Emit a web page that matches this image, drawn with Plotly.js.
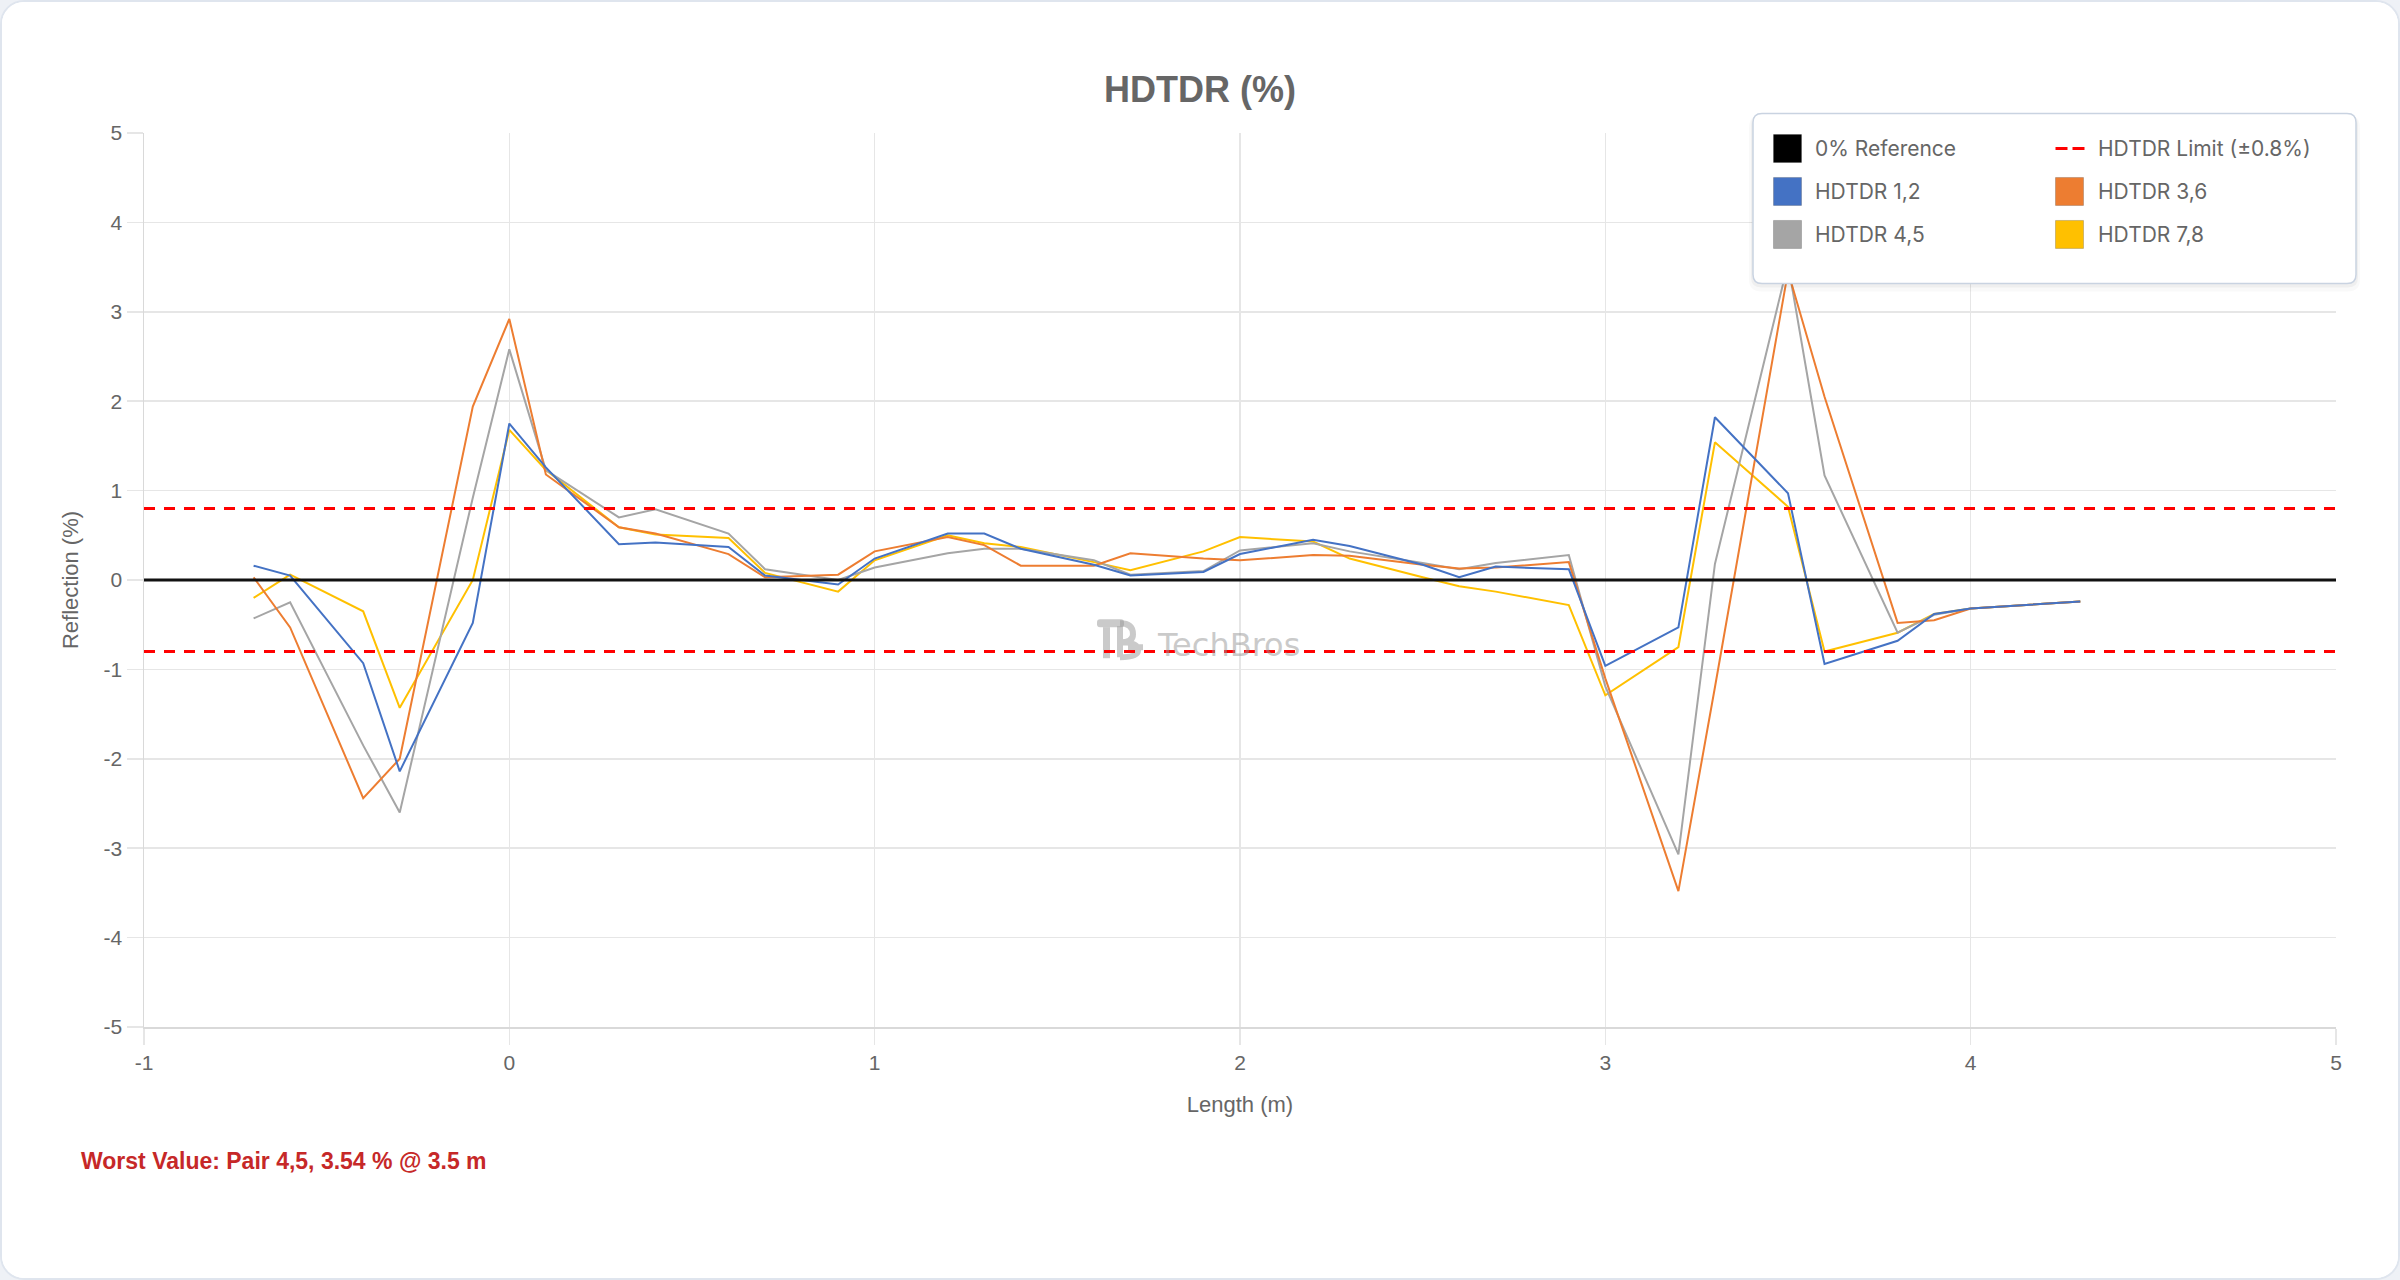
<!DOCTYPE html>
<html>
<head>
<meta charset="utf-8">
<script src="https://cdn.plot.ly/plotly-3.0.1.min.js"></script>
<style>
  html, body { margin:0; padding:0; background:#eef1f6; }
  #wrap { position:absolute; left:0; top:0; width:2400px; height:1280px; box-sizing:border-box;
          border:2px solid #dfe5ee; border-radius:24px; background:#ffffff; overflow:hidden; }
  #chart { width:2396px; height:1276px; }
</style>
</head>
<body>
<div id="wrap"><div id="chart"></div></div>
<script>
// ---------------- data ----------------
const lengthM = [-0.7,-0.6,-0.4,-0.3,-0.1,0,0.1,0.3,0.4,0.6,0.7,0.9,1.0,1.2,1.3,1.4,1.6,1.7,1.9,2.0,2.2,2.3,2.5,2.6,2.7,2.9,3.0,3.2,3.3,3.5,3.6,3.8,3.9,4.0,4.3];
const hdtdr12 = [0.16,0.05,-0.93,-2.14,-0.48,1.75,1.26,0.40,0.42,0.37,0.05,-0.05,0.24,0.52,0.52,0.35,0.17,0.05,0.09,0.29,0.45,0.38,0.17,0.03,0.15,0.12,-0.96,-0.53,1.82,0.97,-0.94,-0.68,-0.38,-0.32,-0.24];
const hdtdr36 = [0.03,-0.53,-2.44,-2.00,1.94,2.92,1.18,0.59,0.52,0.29,0.03,0.06,0.32,0.48,0.39,0.16,0.16,0.30,0.24,0.22,0.28,0.27,0.17,0.13,0.14,0.20,-1.10,-3.48,-1.20,3.45,2.05,-0.48,-0.45,-0.32,-0.24];
const hdtdr45 = [-0.43,-0.25,-1.85,-2.60,0.92,2.58,1.23,0.70,0.79,0.52,0.12,0.00,0.14,0.30,0.35,0.35,0.22,0.06,0.10,0.33,0.41,0.32,0.19,0.12,0.19,0.28,-1.19,-3.07,0.18,3.54,1.17,-0.59,-0.39,-0.32,-0.24];
const hdtdr78 = [-0.20,0.06,-0.35,-1.43,0.00,1.68,1.23,0.59,0.51,0.47,0.08,-0.13,0.22,0.50,0.41,0.37,0.20,0.11,0.32,0.48,0.43,0.24,0.03,-0.07,-0.13,-0.28,-1.29,-0.75,1.54,0.82,-0.80,-0.59,-0.38,-0.32,-0.24];
const spanX = [-1, 5];
const referenceY = [0, 0];
const limitUpperY = [0.8, 0.8];
const limitLowerY = [-0.8, -0.8];
const xTickVals = [-1, 0, 1, 2, 3, 4, 5];
const xTickText = ["-1", "0", "1", "2", "3", "4", "5"];
const yTickVals = [-5, -4, -3, -2, -1, 0, 1, 2, 3, 4, 5];
const yTickText = ["-5", "-4", "-3", "-2", "-1", "0", "1", "2", "3", "4", "5"];
const seriesNames = ["HDTDR 1,2", "HDTDR 3,6", "HDTDR 4,5", "HDTDR 7,8"];
const seriesColors = ["#4472C4", "#ED7D31", "#A5A5A5", "#FFC000"];
const legendLabels = ["0% Reference", "HDTDR Limit (\u00b10.8%)", "HDTDR 1,2", "HDTDR 3,6", "HDTDR 4,5", "HDTDR 7,8"];
const worstText = "Worst Value: Pair 4,5, 3.54 % @ 3.5 m";
const watermarkText = "TechBros";

// ---------------- geometry ----------------
const W = 2396, H = 1276, ML = 142, MR = 62, MT = 130.5, MB = 251;
const PW = W - ML - MR, PH = H - MT - MB;
const OFF = 2; // wrapper border
function px(pageX) { return (pageX - OFF - ML) / PW; }
function py(pageY) { return (H - MB - (pageY - OFF)) / PH; }
function P(x, y) { return px(x) + ',' + py(y); }
function roundRect(x0, y0, x1, y1, r) {
  return 'M' + P(x0 + r, y0) + ' L' + P(x1 - r, y0) + ' Q' + P(x1, y0) + ' ' + P(x1, y0 + r) +
         ' L' + P(x1, y1 - r) + ' Q' + P(x1, y1) + ' ' + P(x1 - r, y1) +
         ' L' + P(x0 + r, y1) + ' Q' + P(x0, y1) + ' ' + P(x0, y1 - r) +
         ' L' + P(x0, y0 + r) + ' Q' + P(x0, y0) + ' ' + P(x0 + r, y0) + ' Z';
}

const FONT = "'Liberation Sans', Arial, sans-serif";
const LFONT = "Inter, 'Noto Sans', sans-serif";

// ---------------- traces (drawn back to front) ----------------
const ys = [hdtdr12, hdtdr36, hdtdr45, hdtdr78];
const traces = [];
for (let i = 3; i >= 0; i--) {
  traces.push({ type: 'scatter', mode: 'lines', name: seriesNames[i], x: lengthM, y: ys[i],
    line: { color: seriesColors[i], width: 2 }, hoverinfo: 'skip' });
}
traces.push({ type: 'scatter', mode: 'lines', name: 'HDTDR Limit (\u00b10.8%)', x: spanX, y: limitUpperY,
  line: { color: '#ff0000', width: 3, dash: '11px,9px' }, hoverinfo: 'skip' });
traces.push({ type: 'scatter', mode: 'lines', name: 'HDTDR Limit (\u00b10.8%)', x: spanX, y: limitLowerY,
  line: { color: '#ff0000', width: 3, dash: '11px,9px' }, hoverinfo: 'skip' });
traces.push({ type: 'scatter', mode: 'lines', name: '0% Reference', x: spanX, y: referenceY,
  line: { color: '#111111', width: 3 }, hoverinfo: 'skip' });

// ---------------- watermark logo (behind traces) ----------------
const WM = 'rgba(150,150,150,0.5)';
const shapes = [
  { type: 'path', xref: 'paper', yref: 'paper', layer: 'below', path: roundRect(1097, 619, 1124, 627, 3),
    fillcolor: WM, line: { width: 0 } },
  { type: 'rect', xref: 'paper', yref: 'paper', layer: 'below', x0: px(1103), x1: px(1110), y0: py(658), y1: py(627),
    fillcolor: WM, line: { width: 0 } },
  { type: 'path', xref: 'paper', yref: 'paper', layer: 'below',
    path: 'M' + P(1120, 626) + ' L' + P(1120, 657) + ' M' + P(1120, 623) + ' Q' + P(1133, 623) + ' ' + P(1133, 634) +
          ' Q' + P(1133, 642) + ' ' + P(1121, 642) + ' M' + P(1121, 642) + ' Q' + P(1138, 642) + ' ' + P(1138, 650) +
          ' Q' + P(1138, 657) + ' ' + P(1120, 657) + ' M' + P(1128, 647) + ' L' + P(1143, 647),
    line: { color: WM, width: 6 } }
];

// ---------------- custom legend ----------------
const LX0 = 1753, LX1 = 2356, LY0 = 113, LY1 = 283;
shapes.push(
  { type: 'path', xref: 'paper', yref: 'paper', layer: 'above', path: roundRect(LX0 - 4, LY0 + 2, LX1 + 4, LY1 + 8, 12),
    fillcolor: 'rgba(0,0,0,0.025)', line: { width: 0 } },
  { type: 'path', xref: 'paper', yref: 'paper', layer: 'above', path: roundRect(LX0 - 2, LY0 + 1, LX1 + 2, LY1 + 4, 10),
    fillcolor: 'rgba(0,0,0,0.04)', line: { width: 0 } },
  { type: 'path', xref: 'paper', yref: 'paper', layer: 'above', path: roundRect(LX0, LY0, LX1, LY1, 9),
    fillcolor: '#ffffff', line: { color: '#c9d3e1', width: 1.5 } }
);
const annotations = [];
const colX = [1773.5, 2055.5];
const textX = [1813, 2096];
const rowY = [148, 191, 234];
const swatchColors = ['#000000', null, seriesColors[0], seriesColors[1], seriesColors[2], seriesColors[3]];
for (let k = 0; k < legendLabels.length; k++) {
  const c = k % 2, r = Math.floor(k / 2);
  const cy = rowY[r], sx = colX[c];
  if (swatchColors[k]) {
    shapes.push({ type: 'rect', xref: 'paper', yref: 'paper', layer: 'above',
      x0: px(sx), x1: px(sx + 28), y0: py(cy + 14), y1: py(cy - 14),
      fillcolor: swatchColors[k], line: { color: 'rgba(0,0,0,0.18)', width: 1 } });
  } else {
    shapes.push({ type: 'line', xref: 'paper', yref: 'paper', layer: 'above',
      x0: px(sx), x1: px(sx + 29), y0: py(cy), y1: py(cy),
      line: { color: '#ff0000', width: 3, dash: '12px,5px' } });
  }
  annotations.push({ xref: 'paper', yref: 'paper', x: px(textX[c]), y: py(cy), xanchor: 'left', yanchor: 'middle',
    showarrow: false, text: legendLabels[k], font: { family: LFONT, size: 21, color: '#666666' } });
}
// watermark text
annotations.push({ xref: 'paper', yref: 'paper', x: px(1228), y: py(645), xanchor: 'center', yanchor: 'middle',
  showarrow: false, text: watermarkText, font: { family: "'DejaVu Sans', sans-serif", size: 32, color: 'rgba(150,150,150,0.5)' } });
// worst value note
annotations.push({ xref: 'paper', yref: 'paper', x: px(79), y: py(1161), xanchor: 'left', yanchor: 'middle',
  showarrow: false, text: worstText, font: { family: FONT, size: 23, color: '#c62828', weight: 700 } });

const axisCommon = {
  showgrid: true, gridcolor: '#e6e6e6', gridwidth: 1.5,
  zeroline: false, showline: true, linecolor: '#d9d9d9', linewidth: 1.5,
  ticks: 'outside', ticklen: 16, tickcolor: '#e6e6e6', tickwidth: 1.5,
  tickfont: { family: FONT, size: 21, color: '#666666' }, tickmode: 'array', fixedrange: true
};

const layout = {
  width: W, height: H,
  margin: { l: ML, r: MR, t: MT, b: MB, pad: 0 },
  paper_bgcolor: '#ffffff', plot_bgcolor: '#ffffff',
  showlegend: false,
  title: { text: 'HDTDR (%)', xref: 'container', yref: 'container', x: 0.5, y: 1 - 87 / H,
    xanchor: 'center', yanchor: 'middle', font: { family: FONT, size: 36, color: '#666666', weight: 700 } },
  xaxis: Object.assign({}, axisCommon, { range: [-1, 5], tickvals: xTickVals, ticktext: xTickText,
    title: { text: 'Length (m)', standoff: 24, font: { family: FONT, size: 22, color: '#666666' } } }),
  yaxis: Object.assign({}, axisCommon, { range: [-5, 5], tickvals: yTickVals, ticktext: yTickText,
    title: { text: 'Reflection (%)', standoff: 19, font: { family: FONT, size: 22, color: '#666666' } } }),
  shapes: shapes,
  annotations: annotations
};

Plotly.newPlot('chart', traces, layout, { staticPlot: true, displayModeBar: false });
</script>
</body>
</html>
